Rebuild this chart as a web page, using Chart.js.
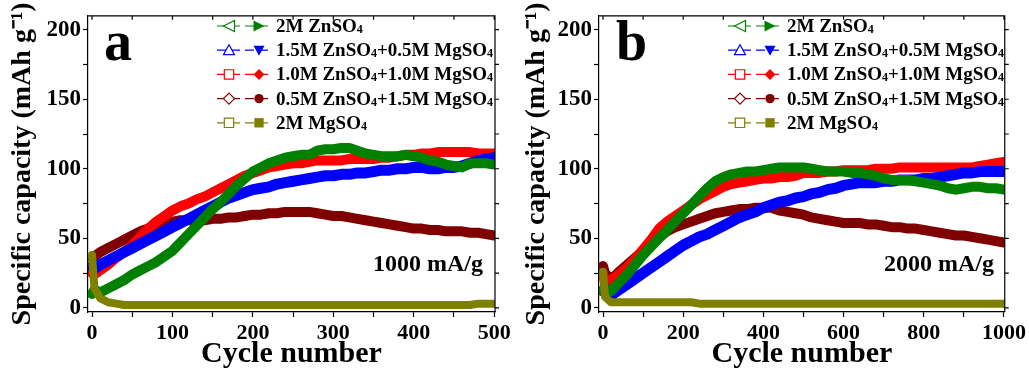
<!DOCTYPE html>
<html>
<head>
<meta charset="utf-8">
<script src="https://cdn.jsdelivr.net/npm/chart.js@4.4.0/dist/chart.umd.min.js"></script>
<style>
  body { margin: 0; background: #fff; }
  #wrap { position: relative; width: 1029px; height: 372px; }
  #chart-a { position: absolute; left: 0; top: 0; width: 520px; height: 372px; }
  #chart-b { position: absolute; left: 520px; top: 0; width: 509px; height: 372px; }
</style>
</head>
<body>
<div id="wrap">
  <canvas id="chart-a" width="520" height="372"></canvas>
  <canvas id="chart-b" width="509" height="372"></canvas>
</div>
<script>
// series names / colours (legend order)
var names = ['2M ZnSO4', '1.5M ZnSO4+0.5M MgSO4', '1.0M ZnSO4+1.0M MgSO4', '0.5M ZnSO4+1.5M MgSO4', '2M MgSO4'];
var colors = ['#008000', '#0000ff', '#ff0000', '#800000', '#808000'];

// panel a: 1000 mA/g
var cyclesA = [0, 3, 10, 20, 30, 40, 50, 60, 70, 80, 90, 100, 110, 120, 130, 140, 150, 160, 170, 180, 190, 200,
  210, 220, 230, 240, 250, 260, 270, 280, 290, 300, 310, 320, 330, 340, 350, 360, 370, 380, 390, 400,
  410, 420, 430, 440, 450, 460, 470, 480, 490, 500];
var greenA = [10, 13, 11, 14, 17, 20, 24, 27, 30, 33, 37, 41, 47, 53, 59, 65, 71, 76, 82, 88, 93, 98,
  101, 104, 106, 108, 109, 110, 110, 113, 114, 114, 115, 115, 113, 111, 110, 109, 109, 109, 110, 109,
  108, 106, 105, 103, 102, 101, 104, 104, 104, 103];
var blueA = [30, 28, 31, 34, 37, 40, 43, 46, 49, 52, 55, 58, 61, 64, 67, 70, 73, 76, 79, 81, 83, 85,
  86, 87, 89, 90, 91, 92, 93, 94, 95, 95, 96, 96, 97, 97, 98, 99, 99, 100, 100, 101,
  101, 100, 100, 101, 101, 102, 104, 106, 107, 108];
var redA = [25, 24, 27, 31, 36, 40, 45, 51, 57, 62, 66, 70, 73, 75, 78, 80, 83, 86, 89, 92, 95, 97,
  99, 101, 102, 103, 104, 104, 105, 106, 106, 106, 106, 107, 107, 107, 107, 108, 108, 109, 110, 110,
  111, 111, 112, 112, 112, 112, 112, 111, 111, 111];
var brownA = [36, 37, 40, 43, 46, 49, 52, 55, 57, 59, 61, 62, 63, 63, 63, 63, 64, 64, 65, 65, 66, 67,
  67, 68, 68, 69, 69, 69, 69, 68, 67, 66, 66, 65, 64, 63, 62, 61, 60, 59, 58, 57,
  57, 56, 56, 55, 55, 55, 54, 54, 53, 52];
var oliveA = [38, 14, 7, 4, 3, 2, 2, 2, 2, 2, 2, 2, 2, 2, 2, 2, 2, 2, 2, 2, 2, 2,
  2, 2, 2, 2, 2, 2, 2, 2, 2, 2, 2, 2, 2, 2, 2, 2, 2, 2, 2, 2,
  2, 2, 2, 2, 2, 2, 2, 3, 3, 3];

// panel b: 2000 mA/g
var cyclesB = [0, 5, 20, 40, 60, 80, 100, 120, 140, 160, 180, 200, 220, 240, 260, 280, 300, 320, 340, 360, 380, 400,
  420, 440, 460, 480, 500, 520, 540, 560, 580, 600, 620, 640, 660, 680, 700, 720, 740, 760, 780, 800,
  820, 840, 860, 880, 900, 920, 940, 960, 980, 1000];
var greenB = [12, 14, 12, 18, 24, 31, 38, 44, 50, 56, 62, 68, 74, 80, 86, 91, 94, 96, 97, 98, 98, 99,
  100, 101, 101, 101, 101, 100, 99, 98, 98, 98, 97, 97, 96, 95, 93, 92, 92, 92, 91, 90,
  89, 88, 86, 85, 86, 87, 87, 86, 86, 85];
var blueB = [12, 14, 9, 13, 17, 21, 25, 29, 33, 37, 41, 45, 48, 51, 53, 56, 59, 62, 65, 67, 69, 72,
  74, 76, 77, 79, 80, 82, 83, 85, 86, 88, 89, 90, 90, 90, 91, 91, 92, 92, 92, 93,
  93, 94, 95, 96, 97, 97, 98, 98, 98, 98];
var redB = [25, 18, 20, 24, 29, 35, 42, 49, 57, 62, 66, 70, 74, 78, 81, 84, 87, 89, 90, 91, 92, 93,
  93, 94, 94, 95, 97, 97, 97, 98, 98, 99, 99, 99, 99, 100, 100, 100, 101, 101, 101, 101,
  101, 101, 101, 101, 101, 101, 102, 103, 104, 105];
var brownB = [30, 25, 20, 26, 31, 36, 41, 46, 51, 55, 58, 60, 62, 64, 66, 68, 69, 70, 71, 71, 72, 72,
  72, 70, 69, 68, 67, 65, 64, 63, 62, 61, 61, 61, 60, 60, 59, 58, 58, 57, 57, 56,
  55, 54, 53, 52, 52, 51, 50, 49, 48, 47];
var oliveB = [26, 8, 4, 4, 4, 4, 4, 4, 4, 4, 4, 4, 4, 3, 3, 3, 3, 3, 3, 3, 3, 3,
  3, 3, 3, 3, 3, 3, 3, 3, 3, 3, 3, 3, 3, 3, 3, 3, 3, 3, 3, 3,
  3, 3, 3, 3, 3, 3, 3, 3, 3, 3];

var yTicks = [0, 25, 50, 75, 100, 125, 150, 175, 200];
var xTicksA = [0, 50, 100, 150, 200, 250, 300, 350, 400, 450, 500];
var xTicksB = [0, 100, 200, 300, 400, 500, 600, 700, 800, 900, 1000];

var FONT = "'Liberation Serif', 'Times New Roman', serif";
// open / filled marker per series
var openShapes = ['triL', 'triU', 'square', 'diamond', 'square'];
var fillShapes = ['triR', 'triD', 'diamond', 'circle', 'square'];
// draw order: olive on top, then green, blue, red, brown
var drawOrder = [1, 2, 3, 4, 0];
var bandWidth = [10, 11, 10, 10, 8];

function pts(xs, ys) {
  return xs.map(function (x, i) { return { x: x, y: ys[i] }; });
}

function marker(ctx, shape, x, y, r, color, filled) {
  ctx.beginPath();
  if (shape == 'triL') { ctx.moveTo(x - r, y); ctx.lineTo(x + r, y - r); ctx.lineTo(x + r, y + r); }
  else if (shape == 'triR') { ctx.moveTo(x + r, y); ctx.lineTo(x - r, y - r); ctx.lineTo(x - r, y + r); }
  else if (shape == 'triU') { ctx.moveTo(x, y - r); ctx.lineTo(x + r, y + r * 0.8); ctx.lineTo(x - r, y + r * 0.8); }
  else if (shape == 'triD') { ctx.moveTo(x, y + r); ctx.lineTo(x + r, y - r * 0.8); ctx.lineTo(x - r, y - r * 0.8); }
  else if (shape == 'square') { ctx.rect(x - r * 0.85, y - r * 0.85, r * 1.7, r * 1.7); }
  else if (shape == 'diamond') { ctx.moveTo(x, y - r); ctx.lineTo(x + r, y); ctx.lineTo(x, y + r); ctx.lineTo(x - r, y); }
  else { ctx.arc(x, y, r * 0.85, 0, Math.PI * 2); }
  ctx.closePath();
  if (filled) { ctx.fillStyle = color; ctx.fill(); }
  else { ctx.fillStyle = '#fff'; ctx.fill(); ctx.lineWidth = 1.2; ctx.strokeStyle = color; ctx.stroke(); }
}

// text with the 4 of SO4 as subscript
function subText(ctx, text, x, y, size) {
  var parts = text.split('SO4');
  parts.forEach(function (p, i) {
    ctx.font = 'bold ' + size + 'px ' + FONT;
    ctx.fillText(p, x, y);
    x += ctx.measureText(p).width;
    if (i < parts.length - 1) {
      ctx.fillText('SO', x, y);
      x += ctx.measureText('SO').width;
      ctx.font = 'bold ' + Math.round(size * 0.65) + 'px ' + FONT;
      ctx.fillText('4', x, y + 3);
      x += ctx.measureText('4').width;
    }
  });
}

function overlay(letter, rate, leg) {
  return {
    id: 'overlay',
    afterDraw: function (chart) {
      var ctx = chart.ctx, a = chart.chartArea;
      var xs = chart.scales.x, ys = chart.scales.y;
      ctx.save();
      // frame top / right with mirror ticks
      ctx.strokeStyle = '#000';
      ctx.lineWidth = 1.2;
      ctx.beginPath();
      ctx.moveTo(a.left, a.top); ctx.lineTo(a.right, a.top); ctx.lineTo(a.right, a.bottom);
      xs.ticks.forEach(function (t) {
        var px = xs.getPixelForValue(t.value);
        ctx.moveTo(px, a.top); ctx.lineTo(px, a.top + 4);
      });
      ys.ticks.forEach(function (t) {
        var py = ys.getPixelForValue(t.value);
        ctx.moveTo(a.right, py); ctx.lineTo(a.right + 4, py);
      });
      ctx.stroke();

      ctx.fillStyle = '#000';
      ctx.textBaseline = 'alphabetic';
      ctx.font = 'bold 56px ' + FONT;
      ctx.textAlign = 'left';
      ctx.fillText(letter.text, letter.x, letter.y);
      ctx.font = 'bold 24px ' + FONT;
      ctx.textAlign = 'right';
      ctx.fillText(rate.text, rate.x, rate.y);

      // legend
      ctx.textAlign = 'left';
      ctx.textBaseline = 'middle';
      names.forEach(function (n, i) {
        var y = 26 + i * 24.2;
        ctx.strokeStyle = colors[i];
        ctx.lineWidth = 1.2;
        ctx.setLineDash([9, 5]);
        ctx.beginPath(); ctx.moveTo(leg.x0, y); ctx.lineTo(leg.x1, y); ctx.stroke();
        ctx.setLineDash([]);
        marker(ctx, openShapes[i], leg.m1, y, 5.5, colors[i], false);
        marker(ctx, fillShapes[i], leg.m2, y, 5.5, colors[i], true);
        ctx.fillStyle = '#000';
        subText(ctx, n, leg.tx, y + 1, 19);
      });
      ctx.restore();
    }
  };
}

function makeChart(id, xs, seriesY, xMin, xMax, xTicks, xLabelStep, yWidth, padRight, yTitlePad, letter, rate, leg) {
  var datasets = seriesY.map(function (ys, i) {
    return {
      label: names[i],
      data: pts(xs, ys),
      borderColor: colors[i],
      backgroundColor: colors[i],
      borderWidth: bandWidth[i],
      borderCapStyle: 'round',
      borderJoinStyle: 'round',
      pointRadius: 0,
      tension: 0,
      fill: false,
      order: drawOrder[i]
    };
  });
  return new Chart(document.getElementById(id), {
    type: 'line',
    data: { datasets: datasets },
    plugins: [overlay(letter, rate, leg)],
    options: {
      responsive: false,
      animation: false,
      events: [],
      layout: { padding: { top: 11, right: padRight, left: 0, bottom: 0 } },
      plugins: { legend: { display: false }, tooltip: { enabled: false } },
      scales: {
        x: {
          type: 'linear',
          min: xMin,
          max: xMax,
          afterBuildTicks: function (s) { s.ticks = xTicks.map(function (v) { return { value: v }; }); },
          afterFit: function (s) { s.height = 60; },
          grid: { drawOnChartArea: false, tickLength: 5, tickColor: '#000', tickWidth: 1.2 },
          border: { color: '#000', width: 1.2 },
          ticks: {
            autoSkip: false, maxRotation: 0, padding: 3, color: '#000',
            font: { family: FONT, size: 22, weight: 'bold' },
            callback: function (v) { return v % xLabelStep === 0 ? v : ''; }
          },
          title: {
            display: true, text: 'Cycle number', color: '#000', padding: { top: 0, bottom: 0 },
            font: { family: FONT, size: 30, weight: 'bold' }
          }
        },
        y: {
          min: -3,
          max: 210,
          afterBuildTicks: function (s) { s.ticks = yTicks.map(function (v) { return { value: v }; }); },
          afterFit: function (s) { s.width = yWidth; },
          grid: { drawOnChartArea: false, tickLength: 5, tickColor: '#000', tickWidth: 1.2 },
          border: { color: '#000', width: 1.2 },
          ticks: {
            autoSkip: false, padding: 2, color: '#000',
            font: { family: FONT, size: 23, weight: 'bold' },
            callback: function (v) { return v % 50 === 0 ? v : ''; }
          },
          title: {
            display: true, text: 'Specific capacity (mAh g\u207B\u00B9)', color: '#000',
            padding: { top: yTitlePad, bottom: 0 },
            font: { family: FONT, size: 28, weight: 'bold' }
          }
        }
      }
    }
  });
}

makeChart('chart-a', cyclesA, [greenA, blueA, redA, brownA, oliveA], -5, 501, xTicksA, 100, 88, 25, 6,
  { text: 'a', x: 104, y: 60 }, { text: '1000 mA/g', x: 483, y: 271 },
  { x0: 217, x1: 272, m1: 229, m2: 259, tx: 276 });
makeChart('chart-b', cyclesB, [greenB, blueB, redB, brownB, oliveB], -10, 1002, xTicksB, 200, 79, 23, 0,
  { text: 'b', x: 96, y: 60 }, { text: '2000 mA/g', x: 474, y: 271 },
  { x0: 208, x1: 263, m1: 220, m2: 250, tx: 267 });
</script>
</body>
</html>
